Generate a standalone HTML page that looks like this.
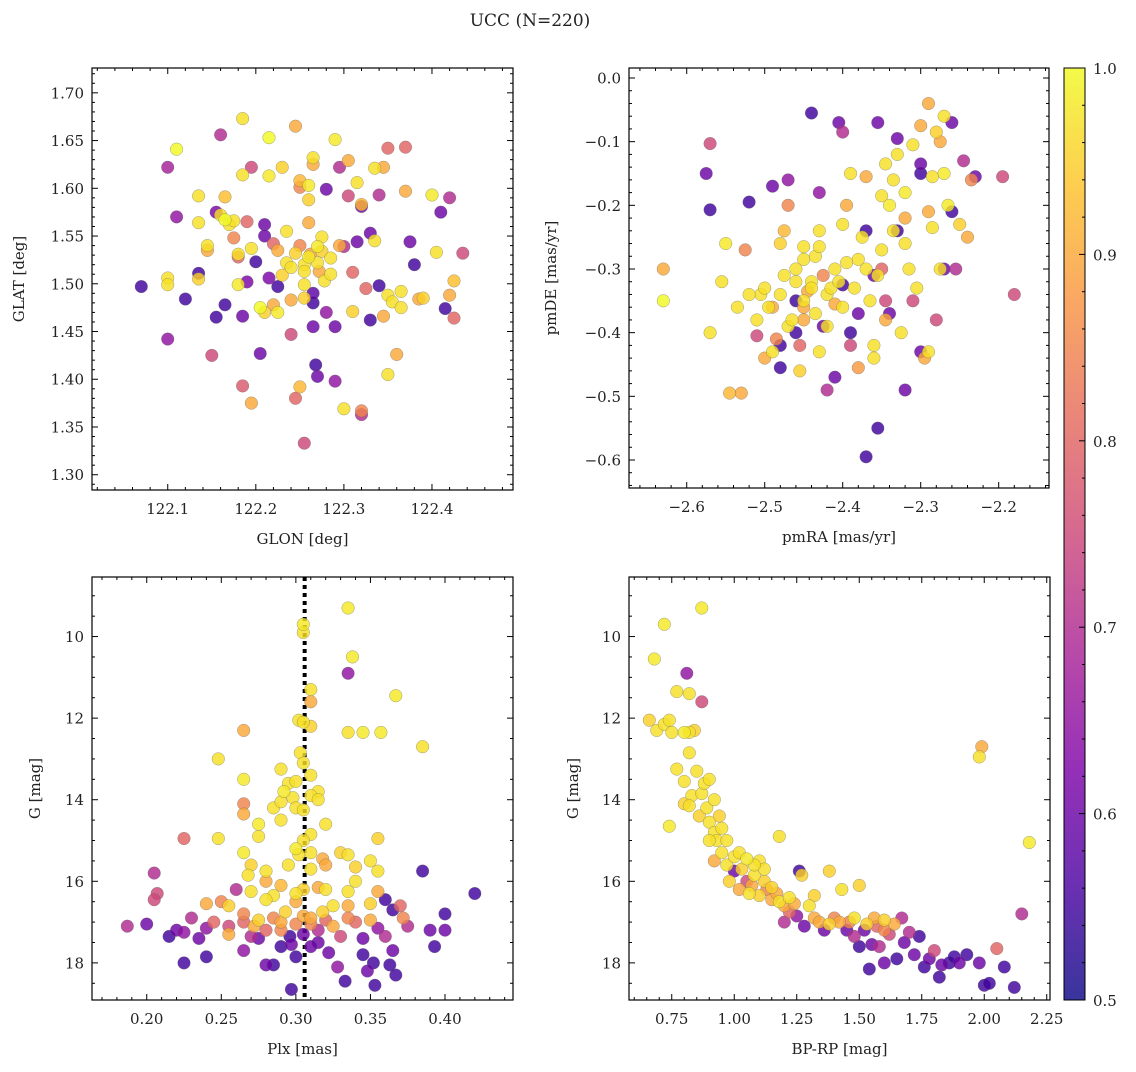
<!DOCTYPE html>
<html><head><meta charset="utf-8"><style>
body{margin:0;background:#fff}
svg text{font-family:"DejaVu Serif","Liberation Serif",serif;fill:#222}
</style></head><body>
<svg id="fig" width="1136" height="1067" xmlns="http://www.w3.org/2000/svg">
<defs><linearGradient id="cmap" x1="0" y1="1" x2="0" y2="0">
<stop offset="0" stop-color="#0d0887"/><stop offset="0.125" stop-color="#4c02a1"/><stop offset="0.25" stop-color="#7e03a8"/><stop offset="0.375" stop-color="#a92395"/><stop offset="0.5" stop-color="#cc4778"/><stop offset="0.625" stop-color="#e56b5d"/><stop offset="0.75" stop-color="#f89441"/><stop offset="0.875" stop-color="#fdc328"/><stop offset="1" stop-color="#f0f921"/>
</linearGradient></defs>
<text x="530" y="26" font-size="17" text-anchor="middle">UCC (N=220)</text>
</svg>
<script>
const p1x=[122.07,122.10,122.10,122.11,122.11,122.10,122.10,122.12,122.135,122.135,122.135,122.135,122.145,122.145,122.15,122.155,122.155,122.16,122.16,122.165,122.165,122.165,122.17,122.175,122.175,122.18,122.18,122.18,122.185,122.185,122.19,122.185,122.185,122.19,122.195,122.195,122.2,122.195,122.205,122.205,122.21,122.21,122.215,122.21,122.215,122.215,122.22,122.22,122.225,122.225,122.225,122.23,122.23,122.235,122.235,122.24,122.24,122.24,122.245,122.245,122.245,122.25,122.25,122.25,122.25,122.255,122.255,122.255,122.255,122.255,122.26,122.26,122.26,122.26,122.262,122.265,122.265,122.265,122.265,122.265,122.268,122.27,122.27,122.27,122.272,122.275,122.275,122.278,122.28,122.28,122.285,122.285,122.29,122.29,122.29,122.295,122.295,122.30,122.30,122.305,122.305,122.31,122.31,122.315,122.315,122.32,122.32,122.32,122.32,122.325,122.33,122.33,122.335,122.335,122.34,122.34,122.345,122.345,122.35,122.35,122.35,122.355,122.36,122.365,122.365,122.37,122.37,122.375,122.38,122.385,122.39,122.40,122.405,122.41,122.415,122.42,122.42,122.425,122.425,122.435];
const p1y=[1.497,1.442,1.622,1.641,1.570,1.506,1.499,1.484,1.511,1.505,1.592,1.564,1.535,1.540,1.425,1.465,1.575,1.656,1.572,1.567,1.478,1.591,1.562,1.566,1.548,1.528,1.531,1.499,1.673,1.614,1.565,1.393,1.466,1.502,1.537,1.622,1.523,1.375,1.427,1.475,1.470,1.562,1.653,1.550,1.613,1.506,1.542,1.478,1.497,1.470,1.535,1.622,1.509,1.555,1.522,1.517,1.447,1.483,1.380,1.665,1.532,1.608,1.392,1.540,1.601,1.520,1.513,1.499,1.485,1.333,1.564,1.603,1.588,1.528,1.531,1.490,1.480,1.455,1.632,1.625,1.415,1.403,1.522,1.539,1.513,1.549,1.534,1.503,1.599,1.470,1.527,1.510,1.651,1.398,1.455,1.540,1.622,1.539,1.369,1.592,1.629,1.512,1.471,1.606,1.544,1.583,1.581,1.367,1.363,1.495,1.553,1.462,1.621,1.545,1.498,1.593,1.622,1.466,1.642,1.488,1.405,1.481,1.426,1.492,1.475,1.597,1.643,1.544,1.520,1.484,1.485,1.593,1.533,1.575,1.474,1.590,1.488,1.503,1.464,1.532];
const p1p=[.55,.65,.68,1,.65,.97,.97,.55,.55,.95,.97,.97,.9,.97,.75,.55,.62,.7,.97,1,.55,.93,.97,.97,.85,.8,.97,.98,.97,.97,.8,.78,.6,.62,.97,.75,.55,.9,.6,1,.95,.6,1,.6,.98,.62,.8,.9,.55,.98,.9,.95,.95,.97,.97,.97,.75,.9,.8,.9,.95,.92,.92,.85,.85,.97,.97,.97,.95,.75,.9,.98,.95,.98,.9,.58,.55,.6,.97,.9,.55,.6,.97,.98,.9,.97,.95,.97,.6,.65,.97,.97,.98,.65,.6,.9,.7,.7,.97,.75,.9,.8,.95,.97,.6,.92,.6,.85,.7,.8,.6,.55,.97,.97,.55,.7,.9,.9,.8,.97,.97,.97,.9,.97,.97,.9,.8,.6,.55,.9,.95,.98,.97,.6,.55,.7,.9,.93,.8,.75];

const p2x=[-2.63,-2.63,-2.575,-2.57,-2.57,-2.57,-2.555,-2.55,-2.545,-2.53,-2.535,-2.525,-2.52,-2.51,-2.505,-2.50,-2.495,-2.49,-2.49,-2.485,-2.48,-2.48,-2.48,-2.475,-2.475,-2.47,-2.47,-2.465,-2.46,-2.46,-2.455,-2.455,-2.45,-2.45,-2.45,-2.445,-2.44,-2.44,-2.44,-2.435,-2.435,-2.43,-2.43,-2.43,-2.425,-2.425,-2.42,-2.42,-2.415,-2.41,-2.41,-2.41,-2.405,-2.405,-2.40,-2.40,-2.40,-2.40,-2.395,-2.39,-2.39,-2.385,-2.38,-2.38,-2.375,-2.37,-2.37,-2.37,-2.365,-2.36,-2.36,-2.355,-2.35,-2.35,-2.345,-2.345,-2.34,-2.34,-2.335,-2.33,-2.33,-2.325,-2.32,-2.315,-2.31,-2.305,-2.30,-2.30,-2.295,-2.29,-2.285,-2.28,-2.275,-2.27,-2.27,-2.265,-2.26,-2.255,-2.25,-2.245,-2.24,-2.235,-2.23,-2.195,-2.18,-2.355,-2.355,-2.33,-2.32,-2.31,-2.30,-2.29,-2.28,-2.26,-2.29,-2.27,-2.30,-2.32,-2.32,-2.345,-2.35,-2.38,-2.39,-2.395,-2.45,-2.46,-2.48,-2.49,-2.50,-2.51,-2.52,-2.47,-2.46,-2.45,-2.42,-2.43,-2.335,-2.36,-2.37,-2.275,-2.285];
const p2y=[-0.30,-0.35,-0.15,-0.103,-0.207,-0.40,-0.32,-0.26,-0.495,-0.495,-0.36,-0.27,-0.195,-0.405,-0.34,-0.44,-0.36,-0.43,-0.17,-0.41,-0.455,-0.42,-0.26,-0.24,-0.31,-0.39,-0.20,-0.38,-0.30,-0.40,-0.42,-0.46,-0.35,-0.285,-0.36,-0.335,-0.32,-0.33,-0.055,-0.28,-0.37,-0.265,-0.18,-0.24,-0.31,-0.39,-0.34,-0.49,-0.33,-0.30,-0.355,-0.47,-0.07,-0.32,-0.23,-0.36,-0.325,-0.085,-0.29,-0.40,-0.42,-0.33,-0.37,-0.455,-0.25,-0.155,-0.595,-0.30,-0.35,-0.42,-0.44,-0.31,-0.27,-0.185,-0.135,-0.38,-0.20,-0.37,-0.16,-0.12,-0.24,-0.40,-0.22,-0.30,-0.35,-0.33,-0.135,-0.15,-0.44,-0.43,-0.235,-0.38,-0.10,-0.06,-0.15,-0.20,-0.21,-0.30,-0.23,-0.13,-0.25,-0.16,-0.155,-0.155,-0.34,-0.55,-0.07,-0.095,-0.18,-0.105,-0.075,-0.04,-0.085,-0.07,-0.21,-0.30,-0.43,-0.49,-0.26,-0.35,-0.30,-0.285,-0.15,-0.20,-0.265,-0.32,-0.34,-0.36,-0.33,-0.38,-0.34,-0.16,-0.35,-0.38,-0.39,-0.43,-0.24,-0.31,-0.24,-0.30,-0.155];
const p2p=[.9,1,.6,.75,.55,.97,.97,.98,.92,.9,.97,.85,.55,.75,.97,.9,.97,.97,.6,.85,.55,.55,.95,.92,.97,.97,.85,.97,.97,.55,.8,.95,.97,.97,.9,.9,.97,.97,.55,.97,.97,.97,.65,.97,.85,.6,.97,.7,.97,.97,.9,.6,.6,.97,.97,.97,.55,.7,.97,.55,.75,.97,.6,.88,.97,.9,.55,.97,.97,.97,.97,.97,.97,.97,.97,.9,.98,.6,.97,.97,.55,.97,.9,.97,.75,.97,.6,.55,.9,.97,.97,.75,.9,.97,.98,.98,.55,.7,.95,.7,.9,.85,.6,.75,.75,.55,.6,.6,.98,.97,.9,.9,.95,.6,.9,.6,.6,.6,.97,.75,.8,.97,.97,.9,.97,.97,.97,.9,.97,.97,.97,.65,.55,.9,.97,.97,.97,.6,.55,.97,.97];

const p3x=[0.305,0.305,0.335,0.338,0.335,0.31,0.31,0.367,0.302,0.305,0.265,0.31,0.335,0.345,0.357,0.385,0.303,0.248,0.305,0.29,0.31,0.265,0.295,0.30,0.292,0.298,0.315,0.31,0.265,0.265,0.285,0.29,0.30,0.305,0.315,0.29,0.32,0.275,0.275,0.248,0.225,0.31,0.305,0.30,0.302,0.31,0.318,0.33,0.335,0.355,0.35,0.265,0.27,0.268,0.28,0.295,0.31,0.32,0.34,0.355,0.385,0.28,0.29,0.26,0.27,0.285,0.3,0.305,0.315,0.32,0.335,0.34,0.355,0.36,0.35,0.335,0.325,0.30,0.28,0.255,0.25,0.24,0.23,0.245,0.205,0.207,0.205,0.187,0.20,0.215,0.22,0.225,0.225,0.235,0.24,0.24,0.255,0.255,0.265,0.265,0.27,0.272,0.275,0.275,0.28,0.28,0.285,0.285,0.29,0.29,0.293,0.296,0.297,0.3,0.297,0.3,0.305,0.305,0.31,0.31,0.315,0.315,0.32,0.322,0.325,0.328,0.33,0.333,0.335,0.34,0.345,0.345,0.348,0.35,0.352,0.353,0.355,0.36,0.363,0.365,0.365,0.367,0.37,0.372,0.375,0.39,0.393,0.4,0.4,0.42,0.31,0.318,0.29,0.265];
const p3y=[9.7,9.9,9.3,10.5,10.9,11.3,11.6,11.45,12.05,12.1,12.3,12.2,12.35,12.35,12.35,12.7,12.85,13.0,13.1,13.25,13.4,13.5,13.6,13.55,13.8,13.95,13.8,13.9,14.1,14.35,14.2,14.05,14.2,14.25,14.0,14.5,14.6,14.6,14.9,14.95,14.95,14.85,15.0,15.2,15.35,15.3,15.45,15.3,15.35,14.95,15.5,15.3,15.6,15.85,15.75,15.6,15.7,15.6,15.65,15.75,15.75,16.0,16.1,16.2,16.25,16.35,16.3,16.2,16.15,16.2,16.25,16.0,16.25,16.45,16.55,16.6,16.6,16.5,16.45,16.6,16.5,16.55,16.9,17.0,15.8,16.3,16.45,17.1,17.05,17.35,17.2,17.25,18.0,17.4,17.15,17.85,17.1,17.3,17.0,17.7,17.35,17.1,16.95,17.4,17.2,18.05,18.05,16.9,17.0,17.2,16.75,17.35,17.55,17.85,18.65,17.05,16.85,17.3,17.05,16.9,17.5,17.2,16.95,17.75,17.1,18.1,17.35,18.45,16.9,17.0,17.4,17.8,18.2,16.95,18.0,18.55,17.15,17.35,18.05,16.7,17.7,18.3,16.6,16.9,17.1,17.2,17.6,16.8,17.2,16.3,17.6,16.75,17.6,16.8];
const p3p=[.98,.97,.98,.98,.65,.97,.9,.98,.97,.97,.9,.95,.97,.98,.98,.97,.97,.97,.97,.97,.97,.98,.97,.97,.98,.97,.97,.97,.85,.9,.97,.97,.97,.97,.97,.97,.97,.98,.97,.97,.8,.97,.97,.98,.97,.97,.9,.95,.97,.95,.97,.98,.95,.97,.97,.97,.97,.9,.95,.97,.55,.9,.92,.7,.97,.97,.97,.95,.9,.97,.97,.97,.9,.55,.95,.9,.97,.9,.97,.95,.85,.9,.7,.8,.7,.75,.75,.7,.6,.55,.6,.65,.55,.6,.65,.55,.75,.9,.8,.65,.7,.9,.95,.6,.8,.6,.55,.85,.9,.85,.95,.55,.6,.55,.55,.85,.9,.6,.85,.9,.6,.7,.8,.6,.9,.65,.75,.55,.85,.8,.6,.55,.6,.9,.55,.55,.65,.7,.55,.55,.6,.55,.8,.85,.7,.6,.55,.55,.6,.55,.6,.95,.55,.85];

const p4x=[0.68,0.72,0.87,0.66,0.69,0.72,0.74,0.75,0.77,0.8,0.82,0.84,0.81,0.82,0.87,0.74,0.77,0.8,0.82,0.8,0.83,0.82,0.85,0.87,0.88,0.86,0.89,0.9,0.9,0.92,0.92,0.93,0.94,0.9,0.92,0.95,0.97,0.97,1.0,1.0,1.02,1.03,1.05,1.05,1.07,1.08,1.1,1.1,1.12,1.13,1.15,1.15,1.17,1.18,1.18,1.2,1.22,1.22,1.24,1.25,1.26,1.27,1.28,1.3,1.32,1.32,1.34,1.36,1.38,1.4,1.42,1.43,1.45,1.46,1.48,1.5,1.5,1.52,1.53,1.54,1.55,1.56,1.57,1.58,1.6,1.6,1.62,1.64,1.65,1.67,1.68,1.7,1.72,1.74,1.76,1.78,1.8,1.82,1.83,1.86,1.88,1.9,1.93,1.98,2.0,2.02,2.05,2.08,2.12,2.15,2.18,1.98,1.99,0.98,1.06,1.2,1.12,1.38,1.48,1.6,1.08,0.95,1.02];
const p4y=[10.55,9.7,9.3,12.05,12.3,12.15,12.05,12.35,11.35,12.35,12.35,12.3,10.9,11.4,11.6,14.65,13.25,13.55,12.85,14.1,13.9,14.15,13.3,13.85,13.6,14.4,14.2,14.55,13.5,14.0,14.8,15.0,14.4,15.0,15.5,15.3,15.0,15.6,15.4,15.75,15.3,15.7,15.45,16.0,16.1,15.85,16.35,15.5,16.0,16.2,16.15,16.45,16.3,16.5,14.9,16.6,16.4,16.75,16.55,16.85,15.75,15.85,17.1,16.6,16.9,16.35,17.0,17.2,15.75,16.9,17.0,16.2,17.2,17.0,17.35,17.6,16.1,17.2,17.05,18.15,17.55,16.9,17.1,17.6,17.2,18.0,17.3,17.05,17.9,16.9,17.5,17.25,17.8,17.35,18.1,17.9,17.7,18.35,18.05,18.0,17.85,18.0,17.8,18.0,18.55,18.5,17.65,18.1,18.6,16.8,15.05,12.95,12.7,16.0,16.3,17.0,15.7,17.05,16.9,16.95,15.6,14.7,16.2];
const p4p=[.98,.98,.98,.95,.97,.97,.97,.97,.97,.98,.97,.95,.65,.97,.75,.98,.97,.97,.97,.95,.97,.97,.97,.97,.97,.95,.97,.97,.97,.97,.97,.97,.95,.97,.9,.97,.97,.97,.97,.6,.97,.95,.98,.75,.9,.97,.95,.97,.95,.85,.95,.9,.9,.97,.97,.9,.97,.8,.9,.65,.55,.95,.6,.97,.9,.95,.9,.6,.95,.85,.9,.97,.6,.85,.7,.55,.95,.6,.95,.55,.6,.9,.8,.7,.85,.6,.75,.9,.55,.7,.6,.7,.6,.55,.55,.6,.75,.55,.6,.55,.55,.6,.55,.6,.55,.55,.8,.55,.55,.7,.98,.97,.9,.95,.97,.7,.97,.95,.97,.95,.97,.97,.9];

const stops=[[13,8,135],[76,2,161],[126,3,168],[169,35,149],[204,71,120],[229,107,93],[248,148,65],[253,195,40],[240,249,33]];
function cmap(v){let t=Math.max(0,Math.min(1,(v-0.5)/0.5))*8;let i=Math.min(7,Math.floor(t)),f=t-i;const a=stops[i],b=stops[i+1];return 'rgb('+a.map((c,k)=>Math.round(c+(b[k]-c)*f)).join(',')+')';}
const NS='http://www.w3.org/2000/svg';const svg=document.getElementById('fig');
function mk(tag,at,parent){const e=document.createElementNS(NS,tag);for(const k in at)e.setAttribute(k,at[k]);(parent||svg).appendChild(e);return e;}
function fmt(v,d){return (v<0?'\u2212':'')+Math.abs(v).toFixed(d);}
function panel(o){
 const g=mk('g',{});
 
 
 const sx=v=>o.L+(v-o.x0)/(o.x1-o.x0)*(o.R-o.L);
 const sy=v=>o.inv? o.T+(v-o.y0)/(o.y1-o.y0)*(o.B-o.T) : o.B-(v-o.y0)/(o.y1-o.y0)*(o.B-o.T);
 if(o.vline!==undefined){const l=mk('line',{x1:sx(o.vline),x2:sx(o.vline),y1:o.T,y2:o.B,stroke:'#000','stroke-width':4,'stroke-dasharray':'4,4'},g);}
 const pts=mk('g',{},g);
 const idx=o.xs.map((_,i)=>i).sort((a,b)=>o.ps[a]-o.ps[b]);
 idx.forEach(i=>{const c=mk('circle',{cx:sx(o.xs[i]).toFixed(1),cy:sy(o.ys[i]).toFixed(1),r:6.3,fill:cmap(o.ps[i]),'fill-opacity':0.82,stroke:'#666','stroke-width':0.5,'stroke-opacity':0.6},pts);
  });
 mk('rect',{x:o.L,y:o.T,width:o.R-o.L,height:o.B-o.T,fill:'none',stroke:'#000','stroke-width':1.2},g);
 const tk=mk('g',{stroke:'#000','stroke-width':1},g);
 for(let k=Math.ceil(o.x0/o.xm-1e-6);k*o.xm<=o.x1;k++){const v=k*o.xm,x=sx(v);const maj=Math.abs(v/o.xM-Math.round(v/o.xM))<1e-6;const len=maj?6:3;
  mk('line',{x1:x,x2:x,y1:o.B,y2:o.B-len},tk);mk('line',{x1:x,x2:x,y1:o.T,y2:o.T+len},tk);
  if(maj){const t=mk('text',{x:x,y:o.B+24,'font-size':15,'text-anchor':'middle'},g);t.textContent=fmt(v,o.xd);}}
 const ya=Math.min(o.y0,o.y1),yb=Math.max(o.y0,o.y1);
 for(let k=Math.ceil(ya/o.ym-1e-6);k*o.ym<=yb;k++){const v=k*o.ym,y=sy(v);const maj=Math.abs(v/o.yM-Math.round(v/o.yM))<1e-6;const len=maj?6:3;
  mk('line',{x1:o.L,x2:o.L+len,y1:y,y2:y},tk);mk('line',{x1:o.R,x2:o.R-len,y1:y,y2:y},tk);
  if(maj){const t=mk('text',{x:o.L-8,y:y+5.5,'font-size':15,'text-anchor':'end'},g);t.textContent=fmt(v,o.yd);}}
 const xl=mk('text',{x:(o.L+o.R)/2,y:o.B+54,'font-size':15,'text-anchor':'middle'},g);xl.textContent=o.xl;
 const yx=o.ylx,yy=(o.T+o.B)/2;const yl=mk('text',{x:yx,y:yy,'font-size':15,'text-anchor':'middle',transform:`rotate(-90 ${yx} ${yy})`},g);yl.textContent=o.yl;
}
panel({name:'glon-glat-panel',L:92,R:513,T:68,B:490,x0:122.014,x1:122.492,y0:1.284,y1:1.726,xm:0.02,xM:0.1,ym:0.01,yM:0.05,xd:1,yd:2,xs:p1x,ys:p1y,ps:p1p,xl:'GLON [deg]',yl:'GLAT [deg]',ylx:24});
panel({name:'proper-motion-panel',L:629,R:1049,T:68,B:488,x0:-2.674,x1:-2.1355,y0:-0.644,y1:0.0157,xm:0.02,xM:0.1,ym:0.02,yM:0.1,xd:1,yd:1,xs:p2x,ys:p2y,ps:p2p,xl:'pmRA [mas/yr]',yl:'pmDE [mas/yr]',ylx:556});
panel({name:'plx-g-panel',L:92,R:513,T:577,B:1000,x0:0.1633,x1:0.4456,y0:8.54,y1:18.91,inv:true,xm:0.01,xM:0.05,ym:0.5,yM:2,xd:2,yd:0,xs:p3x,ys:p3y,ps:p3p,xl:'Plx [mas]',yl:'G [mag]',ylx:40,vline:0.3059});
panel({name:'cmd-panel',L:629,R:1050,T:577,B:1000,x0:0.579,x1:2.263,y0:8.54,y1:18.91,inv:true,xm:0.05,xM:0.25,ym:0.5,yM:2,xd:2,yd:0,xs:p4x,ys:p4y,ps:p4p,xl:'BP-RP [mag]',yl:'G [mag]',ylx:578});
const cb=mk('g',{});
mk('rect',{x:1064,y:68,width:21,height:932,fill:'url(#cmap)','fill-opacity':0.82},cb);
mk('rect',{x:1064,y:68,width:21,height:932,fill:'none',stroke:'#000','stroke-width':1},cb);
for(let k=25;k<=50;k++){const v=k/50,y=1000-(v-0.5)/0.5*932;const maj=k%5==0;mk('line',{x1:1085,x2:1085-(maj?6:3),y1:y,y2:y,stroke:'#000'},cb);
 if(maj){const t=mk('text',{x:1093,y:y+6,'font-size':15},cb);t.textContent=v.toFixed(1);}}
</script>
</body></html>
